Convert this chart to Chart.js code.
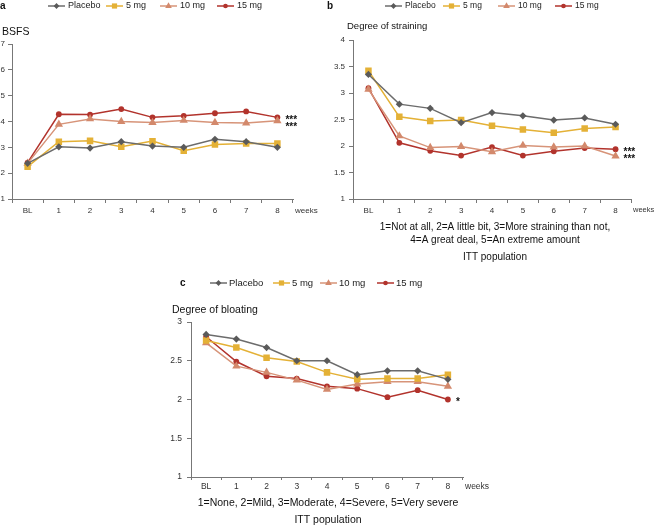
<!DOCTYPE html>
<html lang="en">
<head>
<meta charset="UTF-8">
<title>BSFS, straining and bloating</title>
<script src="https://cdn.jsdelivr.net/npm/chart.js"></script>
<style>
    body { margin: 0; background: #ffffff; width: 654px; height: 526px; position: relative; overflow: hidden; }
    canvas { position: absolute; }
    #chartA { left: 0; top: 0; }
    #chartB { left: 327px; top: 0; }
    #chartC { left: 150px; top: 270px; }
</style>
</head>
<body>
<canvas id="chartA" width="326" height="226"></canvas>
<canvas id="chartB" width="327" height="265"></canvas>
<canvas id="chartC" width="350" height="256"></canvas>

<script>
// categories and series names
const weeks = ['BL', '1', '2', '3', '4', '5', '6', '7', '8'];
const groups = ['Placebo', '5 mg', '10 mg', '15 mg'];

// panel a - BSFS
const bsfsPlacebo = [2.38, 3.02, 2.97, 3.22, 3.05, 3.00, 3.31, 3.22, 3.00];
const bsfs5mg     = [2.25, 3.22, 3.25, 3.02, 3.24, 2.87, 3.11, 3.15, 3.15];
const bsfs10mg    = [2.38, 3.89, 4.10, 4.00, 3.96, 4.04, 3.96, 3.94, 4.03];
const bsfs15mg    = [2.41, 4.28, 4.27, 4.48, 4.16, 4.22, 4.32, 4.39, 4.16];
const bsfsStars   = ['', '', '***', '***'];
const bsfsTicks   = [1, 2, 3, 4, 5, 6, 7];

// panel b - degree of straining
const strainPlacebo = [3.35, 2.79, 2.71, 2.44, 2.63, 2.57, 2.49, 2.53, 2.41];
const strain5mg     = [3.42, 2.55, 2.47, 2.49, 2.38, 2.31, 2.25, 2.33, 2.36];
const strain10mg    = [3.07, 2.19, 1.97, 1.99, 1.89, 2.01, 1.98, 2.00, 1.81];
const strain15mg    = [3.09, 2.06, 1.91, 1.82, 1.98, 1.82, 1.90, 1.96, 1.94];
const strainStars   = ['', '', '***', '***'];
const strainTicks   = [1, 1.5, 2, 2.5, 3, 3.5, 4];

// panel c - degree of bloating
const bloatPlacebo = [2.84, 2.78, 2.67, 2.50, 2.50, 2.32, 2.37, 2.37, 2.26];
const bloat5mg     = [2.76, 2.67, 2.54, 2.49, 2.35, 2.26, 2.27, 2.27, 2.32];
const bloat10mg    = [2.73, 2.43, 2.35, 2.25, 2.13, 2.20, 2.23, 2.23, 2.17];
const bloat15mg    = [2.81, 2.49, 2.30, 2.27, 2.17, 2.14, 2.03, 2.12, 2.00];
const bloatStars   = ['', '', '', '*'];
const bloatTicks   = [1, 1.5, 2, 2.5, 3];

const FONT = '"Liberation Sans", Arial, sans-serif';

// look of each group
const groupStyle = [
    { color: '#6c6c6c', point: '#5a5a5a', shape: 'rectRot', r: 3.6 },
    { color: '#e4b136', point: '#e4b136', shape: 'rect', r: 4.6 },
    { color: '#d79479', point: '#d3896c', shape: 'triangle', r: 4.8 },
    { color: '#b2332c', point: '#b2332c', shape: 'circle', r: 2.9 }
];

function drawMarker(ctx, shape, x, y, r) {
    ctx.beginPath();
    if (shape === 'circle') {
        ctx.arc(x, y, r, 0, Math.PI * 2);
    } else if (shape === 'rect') {
        const s = r * Math.SQRT1_2;
        ctx.rect(x - s, y - s, 2 * s, 2 * s);
    } else if (shape === 'rectRot') {
        ctx.moveTo(x, y - r); ctx.lineTo(x + r, y); ctx.lineTo(x, y + r); ctx.lineTo(x - r, y);
        ctx.closePath();
    } else {
        ctx.moveTo(x, y - r);
        ctx.lineTo(x + r * 0.866, y + r * 0.5);
        ctx.lineTo(x - r * 0.866, y + r * 0.5);
        ctx.closePath();
    }
    ctx.fill();
}

// legend, titles, notes and significance marks
const panelDecor = {
    id: 'panelDecor',
    afterDraw(chart, args, o) {
        const ctx = chart.ctx;
        const area = chart.chartArea;
        ctx.save();
        ctx.textBaseline = 'middle';

        ctx.fillStyle = '#111';
        ctx.font = 'bold 10px ' + FONT;
        ctx.textAlign = 'left';
        ctx.fillText(o.letter, o.letterX, o.legendY);

        chart.data.datasets.forEach((ds, i) => {
            const st = groupStyle[i];
            const x = o.legendX[i];
            ctx.strokeStyle = st.color;
            ctx.lineWidth = 1.5;
            ctx.beginPath();
            ctx.moveTo(x, o.legendY);
            ctx.lineTo(x + 17, o.legendY);
            ctx.stroke();
            ctx.fillStyle = st.point;
            drawMarker(ctx, st.shape, x + 8.5, o.legendY, st.r * 0.8);
            ctx.fillStyle = '#222';
            ctx.font = o.legendFont + 'px ' + FONT;
            ctx.fillText(ds.label, x + o.legendGap, o.legendY);
        });

        // y title
        ctx.fillStyle = '#111';
        ctx.font = o.titleFont + 'px ' + FONT;
        ctx.fillText(o.title, o.titleX, o.titleY);

        // weeks
        ctx.font = o.weeksFont + 'px ' + FONT;
        ctx.fillStyle = '#333';
        ctx.fillText('weeks', area.right + 2, o.weeksY);

        // notes under the chart
        ctx.textAlign = 'center';
        ctx.fillStyle = '#111';
        ctx.font = o.noteFont + 'px ' + FONT;
        (o.notes || []).forEach(n => ctx.fillText(n.text, o.noteX, n.y));

        // stars next to the last point
        const marks = [];
        chart.data.datasets.forEach((ds, i) => {
            if (!o.stars[i]) return;
            const meta = chart.getDatasetMeta(i);
            const pt = meta.data[meta.data.length - 1];
            marks.push({ text: o.stars[i], x: pt.x + 8, y: pt.y });
        });
        marks.sort((p, q) => p.y - q.y);
        for (let k = 1; k < marks.length; k++) {
            if (marks[k].y - marks[k - 1].y < 7) marks[k].y = marks[k - 1].y + 7;
        }
        ctx.textAlign = 'left';
        ctx.fillStyle = '#111';
        ctx.font = 'bold 10px ' + FONT;
        marks.forEach(m => ctx.fillText(m.text, m.x, m.y + 3));

        ctx.restore();
    }
};

function buildDatasets(series) {
    return series.map((vals, i) => ({
        label: groups[i],
        data: vals,
        borderColor: groupStyle[i].color,
        backgroundColor: groupStyle[i].point,
        pointBackgroundColor: groupStyle[i].point,
        pointBorderColor: groupStyle[i].point,
        pointBorderWidth: 0,
        pointStyle: groupStyle[i].shape,
        pointRadius: groupStyle[i].r,
        borderWidth: 1.5,
        tension: 0,
        fill: false
    }));
}

function makePanel(id, series, ticks, lay, decor) {
    return new Chart(document.getElementById(id), {
        type: 'line',
        data: { labels: weeks, datasets: buildDatasets(series) },
        plugins: [panelDecor],
        options: {
            responsive: false,
            animation: false,
            layout: { padding: lay.padding },
            plugins: {
                legend: { display: false },
                tooltip: { enabled: false },
                panelDecor: decor
            },
            scales: {
                x: {
                    offset: true,
                    grid: { offset: true, drawOnChartArea: false, drawTicks: true, tickLength: lay.xTickLen, color: '#777' },
                    border: { display: true, color: '#777', width: 1 },
                    ticks: { color: '#333', padding: lay.xPad, font: { family: FONT, size: decor.tickFont }, maxRotation: 0 },
                    afterFit: s => { s.height = lay.xHeight; }
                },
                y: {
                    min: ticks[0],
                    max: ticks[ticks.length - 1],
                    afterBuildTicks: s => { s.ticks = ticks.map(v => ({ value: v })); },
                    grid: { drawOnChartArea: false, drawTicks: true, tickLength: 4, color: '#777' },
                    border: { display: true, color: '#777', width: 1 },
                    ticks: { color: '#333', padding: lay.yPad, font: { family: FONT, size: decor.tickFont }, callback: v => String(v) },
                    afterFit: s => { s.width = lay.yWidth; }
                }
            }
        }
    });
}

makePanel('chartA', [bsfsPlacebo, bsfs5mg, bsfs10mg, bsfs15mg], bsfsTicks,
    { padding: { left: 0, right: 33, top: 44, bottom: 0 }, yWidth: 12, xHeight: 27, xTickLen: 4, xPad: 3, yPad: 3 },
    { letter: 'a', letterX: 0, legendY: 6, legendX: [48, 106, 160, 217], legendGap: 20, legendFont: 9,
      title: 'BSFS', titleX: 2, titleY: 32, titleFont: 10.5, tickFont: 8, weeksFont: 8, weeksY: 211,
      noteX: 0, noteFont: 10, notes: [], stars: bsfsStars });

makePanel('chartB', [strainPlacebo, strain5mg, strain10mg, strain15mg], strainTicks,
    { padding: { left: 0, right: 23, top: 40, bottom: 39 }, yWidth: 26, xHeight: 27, xTickLen: 4, xPad: 3, yPad: 4 },
    { letter: 'b', letterX: 0, legendY: 6, legendX: [58, 116, 171, 228], legendGap: 20, legendFont: 8.5,
      title: 'Degree of straining', titleX: 20, titleY: 26, titleFont: 9.5, tickFont: 8, weeksFont: 7.5, weeksY: 210,
      noteX: 168, noteFont: 10,
      notes: [
          { text: '1=Not at all, 2=A little bit, 3=More straining than not,', y: 227 },
          { text: '4=A great deal, 5=An extreme amount', y: 240 },
          { text: 'ITT population', y: 257 }
      ],
      stars: strainStars });

makePanel('chartC', [bloatPlacebo, bloat5mg, bloat10mg, bloat15mg], bloatTicks,
    { padding: { left: 14, right: 37, top: 52, bottom: 27 }, yWidth: 27, xHeight: 22, xTickLen: 3, xPad: 2, yPad: 5 },
    { letter: 'c', letterX: 30, legendY: 13, legendX: [60, 123, 170, 227], legendGap: 19, legendFont: 9.5,
      title: 'Degree of bloating', titleX: 22, titleY: 40, titleFont: 10.5, tickFont: 8.5, weeksFont: 8.5, weeksY: 217,
      noteX: 178, noteFont: 10.5,
      notes: [
          { text: '1=None, 2=Mild, 3=Moderate, 4=Severe, 5=Very severe', y: 233 },
          { text: 'ITT population', y: 250 }
      ],
      stars: bloatStars });
</script>
</body>
</html>
